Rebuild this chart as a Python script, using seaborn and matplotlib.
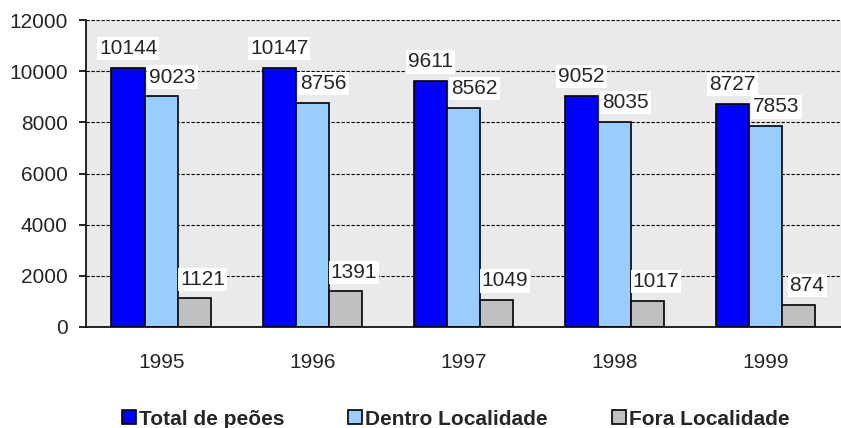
import pandas as pd
import matplotlib
matplotlib.use("Agg")
import matplotlib.pyplot as plt
import seaborn as sns
from matplotlib.lines import Line2D

# data
years = ["1995", "1996", "1997", "1998", "1999"]
total_peoes = [10144, 10147, 9611, 9052, 8727]
dentro_localidade = [9023, 8756, 8562, 8035, 7853]
fora_localidade = [1121, 1391, 1049, 1017, 874]

series_names = ["Total de peões", "Dentro Localidade", "Fora Localidade"]
colors = ["#0000FF", "#99CCFF", "#C0C0C0"]

df = pd.DataFrame({
    "Ano": years * 3,
    "Valor": total_peoes + dentro_localidade + fora_localidade,
    "Serie": [s for s in series_names for _ in years],
})

sns.set_style("white")
plt.rcParams["font.family"] = ["Liberation Sans", "DejaVu Sans"]

fig = plt.figure(figsize=(8.41, 4.28), dpi=100)
ax = fig.add_axes([0.102, 0.236, 0.898, 0.717])
ax.set_facecolor("#EAEAEA")

sns.barplot(data=df, x="Ano", y="Valor", hue="Serie", order=years,
            hue_order=series_names, palette=colors, width=0.66,
            edgecolor="black", linewidth=1.2, saturation=1, legend=False, ax=ax)

# value labels with white boxes, Excel-like: the 2nd/3rd series sit a bit right
x_shift = [0, 8, 6]
for i, cont in enumerate(ax.containers):
    labels = ax.bar_label(cont, fmt="%d", padding=7, fontsize=15)
    for t in labels:
        t.xyann = (x_shift[i], 7)
        t.set_bbox(dict(facecolor="white", edgecolor="none", pad=1.5))

ax.set_ylim(0, 12000)
ax.set_yticks(range(0, 12001, 2000))
ax.set_xlim(-0.5, 4.5)
ax.yaxis.grid(True, linestyle=(0, (3, 1.5)), color="black", linewidth=0.8)
ax.set_axisbelow(True)

for side in ["top", "right"]:
    ax.spines[side].set_visible(False)
for side in ["left", "bottom"]:
    ax.spines[side].set_color("black")
    ax.spines[side].set_linewidth(1.2)

ax.set_xticks([i + 0.5 for i in range(-1, 5)], minor=True)
ax.tick_params(axis="x", which="major", length=0, pad=19, labelsize=15)
ax.tick_params(axis="x", which="minor", length=7, width=1.2, direction="out", color="black")
ax.tick_params(axis="y", length=5, width=1.2, direction="out", color="black",
               pad=8, labelsize=15, left=True)
ax.set_xlabel("")
ax.set_ylabel("")

handles = [Line2D([0], [0], marker="s", linestyle="none", markersize=9.5,
                  markerfacecolor=c, markeredgecolor="black", markeredgewidth=1.2)
           for c in colors]
leg = fig.legend(handles, series_names, loc="center", bbox_to_anchor=(0.542, 0.021),
                 ncol=3, frameon=False, handlelength=0.65, handletextpad=0.15,
                 columnspacing=3.1, prop={"weight": "bold", "size": 15})

fig.savefig("out.png", dpi=100)
